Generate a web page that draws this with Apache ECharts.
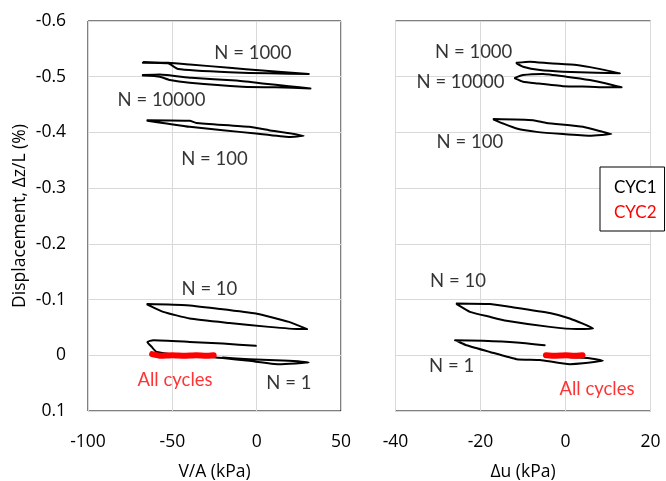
<!DOCTYPE html>
<html><head><meta charset="utf-8">
<script src="https://cdn.jsdelivr.net/npm/echarts@6/dist/echarts.min.js"></script>
<style>html,body{margin:0;padding:0;background:#fff}#c{width:666px;height:481px}</style>
</head><body><div id="c"></div>
<script>
// ---- data ----
const yTicks = [-0.6, -0.5, -0.4, -0.3, -0.2, -0.1, 0, 0.1];
const xTicksLeft = [-100, -50, 0, 50];
const xTicksRight = [-40, -20, 0, 20];

// Left panel: V/A (kPa) vs displacement
const left1000 = [[-67.5,-0.525],[-52.5,-0.524],[-46.6,-0.514],[-16.2,-0.508],[7.3,-0.506],[30.9,-0.505],[3.4,-0.511],[-16.2,-0.516],[-39.7,-0.522],[-52.5,-0.525],[-67,-0.526]];
const left10000 = [[-67.5,-0.502],[-57.4,-0.500],[-51.5,-0.494],[-39.7,-0.489],[-8.4,-0.482],[11.3,-0.481],[31.9,-0.479],[19.1,-0.483],[3.4,-0.488],[-12.2,-0.493],[-38.7,-0.498],[-57.4,-0.504],[-67.5,-0.503]];
const left100 = [[-64.8,-0.422],[-39.7,-0.421],[-35.8,-0.417],[-4.4,-0.410],[7.3,-0.404],[27.9,-0.394],[19.1,-0.392],[-0.5,-0.398],[-20.1,-0.404],[-39.7,-0.410],[-53.4,-0.416],[-64.8,-0.421]];
const left10 = [[-64.8,-0.092],[-41.7,-0.090],[-24,-0.084],[-0.5,-0.075],[19.1,-0.060],[29.9,-0.047],[25,-0.047],[7.3,-0.051],[-16.2,-0.058],[-39.7,-0.066],[-55.4,-0.078],[-64.8,-0.091]];
const left1 = [[-0.5,-0.017],[-20.1,-0.021],[-39.7,-0.024],[-61.3,-0.027],[-64.8,-0.024],[-62.2,-0.015],[-59.3,-0.006],[-39.7,0.001],[-20.1,0.005],[-4.4,0.010],[13.2,0.016],[30.9,0.013],[19.1,0.010],[-4.4,0.007],[-20.1,0.004]];
const leftAll = [[-62,-0.002],[-57,0.001],[-50,0.000],[-43,0.001],[-36,0.000],[-30,0.001],[-25.5,0.000]];

// Right panel: Δu (kPa) vs displacement
const right1000 = [[-11.5,-0.525],[-8.4,-0.527],[-3.7,-0.524],[2.6,-0.521],[7.3,-0.515],[12.8,-0.506],[7.3,-0.507],[-0.6,-0.509],[-6,-0.512],[-10,-0.518],[-11.5,-0.524]];
const right10000 = [[-11.9,-0.498],[-10,-0.503],[-5.3,-0.505],[0.2,-0.500],[5.7,-0.494],[9.6,-0.488],[13.2,-0.481],[9.6,-0.481],[5.7,-0.482],[-0.6,-0.483],[-6.8,-0.488],[-10,-0.491],[-11.9,-0.497]];
const right100 = [[-16.9,-0.424],[-7.6,-0.422],[-4.5,-0.417],[4.1,-0.410],[8.8,-0.401],[10.8,-0.397],[5.7,-0.394],[-0.6,-0.397],[-6.8,-0.401],[-11.5,-0.407],[-14.7,-0.416],[-16.9,-0.423]];
const right10 = [[-25.6,-0.093],[-17.8,-0.092],[-13.1,-0.087],[-3.7,-0.076],[1.0,-0.066],[6.5,-0.048],[2.6,-0.047],[-3.7,-0.051],[-13.9,-0.062],[-17.8,-0.069],[-22.5,-0.078],[-25.6,-0.092]];
const right1 = [[-4.9,-0.018],[-11.5,-0.023],[-19.4,-0.026],[-26,-0.027],[-23.3,-0.018],[-17.8,-0.006],[-11.5,0.007],[-6.0,0.0085],[1.0,0.016],[4.1,0.0145],[8.8,0.0098],[5.7,0.0055],[1.0,0.0037]];
const rightAll = [[-4.6,0.000],[-2.5,0.001],[0,0.000],[2,0.001],[4,0.000]];

// annotation labels (data coordinates)
const leftLabels = [[-2.2,-0.543,'N = 1000'],[-56.4,-0.458,'N = 10000'],[-25,-0.352,'N = 100'],[-28,-0.119,'N = 10'],[19.1,0.050,'N = 1']];
const leftRedLabels = [[-48.4,0.044,'All cycles']];
const rightLabels = [[-21.6,-0.545,'N = 1000'],[-24.7,-0.491,'N = 10000'],[-22.5,-0.383,'N = 100'],[-25.3,-0.133,'N = 10'],[-26.8,0.019,'N = 1']];
const rightRedLabels = [[7.4,0.061,'All cycles']];

// ---- chart ----
const FONT = 'Lato';
const AXFONT = 'Open Sans';
const chart = echarts.init(document.getElementById('c'), null, {renderer: 'canvas'});

function loop(data, gi, color, w) {
  return {
    type: 'line', name: color === '#ff0000' ? 'CYC2' : 'CYC1',
    xAxisIndex: gi, yAxisIndex: gi, data: data,
    showSymbol: false, symbol: 'none', smooth: 0.15,
    lineStyle: {color: color, width: w, cap: 'round', join: 'round'},
    itemStyle: {color: color}, silent: true, z: color === '#ff0000' ? 4 : 3
  };
}
function labels(data, gi, color) {
  return {
    type: 'scatter', name: 'labels', xAxisIndex: gi, yAxisIndex: gi,
    data: data, symbolSize: 0, silent: true,
    label: {show: true, position: 'inside', formatter: p => p.value[2],
      color: color, fontFamily: FONT, fontSize: 18.5}
  };
}
function xAxis(gi, ticks, name) {
  return {
    type: 'value', gridIndex: gi, min: ticks[0], max: ticks[ticks.length-1],
    interval: ticks[1]-ticks[0], name: name, nameLocation: 'middle', nameGap: 52,
    nameTextStyle: {fontFamily: AXFONT, fontSize: 17.5, color: '#000'},
    axisLine: {show: false}, axisTick: {show: false},
    axisLabel: {margin: 22, fontFamily: AXFONT, fontSize: 17.5, color: '#000'},
    splitLine: {show: true, lineStyle: {color: '#d9d9d9', width: 1}}
  };
}
function yAxis(gi, showLabels) {
  return {
    type: 'value', gridIndex: gi, inverse: true,
    min: yTicks[0], max: yTicks[yTicks.length-1], interval: 0.1,
    name: showLabels ? 'Displacement, Δz/L (%)' : '', nameLocation: 'middle', nameGap: 59,
    nameTextStyle: {fontFamily: AXFONT, fontSize: 17.5, color: '#000'},
    axisLine: {show: false}, axisTick: {show: false},
    axisLabel: {show: showLabels, margin: 22, fontFamily: AXFONT, fontSize: 17.5, color: '#000',
      formatter: v => String(Math.round(v*10)/10)},
    splitLine: {show: true, lineStyle: {color: '#d9d9d9', width: 1}}
  };
}

chart.setOption({
  animation: false,
  backgroundColor: '#fff',
  grid: [
    {left: 88, top: 21, width: 253, height: 390, show: true, borderColor: '#000', borderWidth: 1, backgroundColor: 'transparent', outerBoundsMode: 'none', containLabel: false},
    {left: 395.5, top: 21, width: 255, height: 390, show: true, borderColor: '#000', borderWidth: 1, backgroundColor: 'transparent', outerBoundsMode: 'none', containLabel: false}
  ],
  xAxis: [xAxis(0, xTicksLeft, 'V/A (kPa)'), xAxis(1, xTicksRight, 'Δu (kPa)')],
  yAxis: [yAxis(0, true), yAxis(1, false)],
  legend: {
    left: 600, top: 167, orient: 'vertical', icon: 'none', itemWidth: 0, itemHeight: 16, itemGap: 8,
    padding: [12, 8, 10, 9], backgroundColor: '#fff', borderColor: '#000', borderWidth: 1,
    selectedMode: false,
    textStyle: {fontFamily: FONT, fontSize: 17},
    data: [{name: 'CYC1', textStyle: {color: '#000'}}, {name: 'CYC2', textStyle: {color: '#ff0000'}}]
  },
  series: [
    loop(left1000, 0, '#000', 2), loop(left10000, 0, '#000', 2), loop(left100, 0, '#000', 2),
    loop(left10, 0, '#000', 2), loop(left1, 0, '#000', 2), loop(leftAll, 0, '#ff0000', 6),
    loop(right1000, 1, '#000', 2), loop(right10000, 1, '#000', 2), loop(right100, 1, '#000', 2),
    loop(right10, 1, '#000', 2), loop(right1, 1, '#000', 2), loop(rightAll, 1, '#ff0000', 6),
    labels(leftLabels, 0, '#000'), labels(leftRedLabels, 0, '#ff0000'),
    labels(rightLabels, 1, '#000'), labels(rightRedLabels, 1, '#ff0000')
  ]
});
</script></body></html>
